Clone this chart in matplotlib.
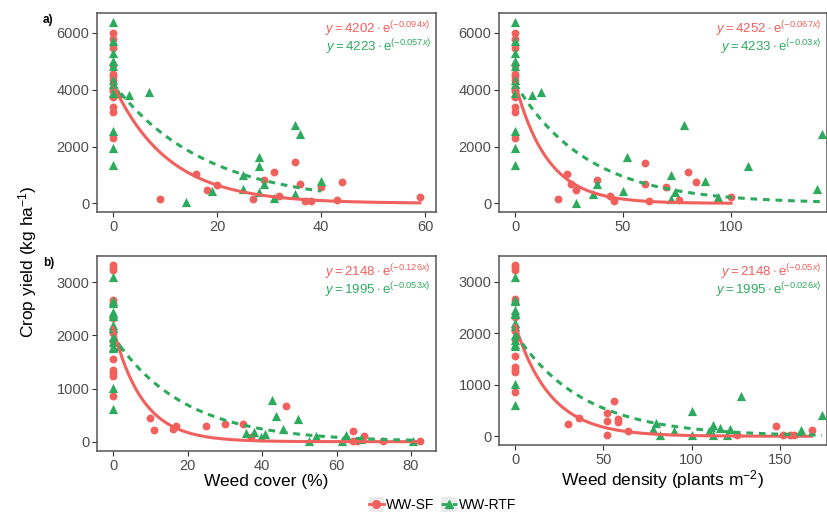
import numpy as np
import matplotlib
matplotlib.use("Agg")
import matplotlib.pyplot as plt
from matplotlib.lines import Line2D
from matplotlib.patches import Rectangle
from matplotlib.legend_handler import HandlerLine2D

plt.rcParams['font.family'] = ['Liberation Sans', 'DejaVu Sans']
plt.rcParams['mathtext.fontset'] = 'custom'
plt.rcParams['mathtext.rm'] = 'Liberation Sans'
plt.rcParams['mathtext.it'] = 'Liberation Sans:italic'

RED = '#F0605D'
GREEN = '#2EAA5E'
DASH = (0, (2.2, 1.9))

# yields at zero weeds (shared by both panels of a row)
sf_y0_a = [6000, 5770, 5480, 4870, 4550, 4480, 4350, 4000, 3950, 3730, 3400, 3200, 2300]
rtf_y0_a = [6400, 5700, 5300, 5000, 4850, 4350, 4200, 3900, 2550, 1950, 1350]
sf_y0_b = [3330, 3280, 3230, 2670, 2610, 2320, 2110, 2040, 1890, 1565, 1350, 1285, 1238, 855]
rtf_y0_b = [3095, 2650, 2620, 2440, 2400, 2370, 2190, 2134, 1970, 1875, 1790, 1755, 1015, 615]

# a) weed cover
sf_cover_a_x = [9, 16, 18, 20, 27, 29, 31, 32, 35, 36, 37, 38, 40, 43, 44, 59]
sf_cover_a_y = [160, 1030, 470, 645, 150, 820, 1090, 255, 1440, 690, 80, 80, 580, 115, 760, 220]
rtf_cover_a_x = [1, 3, 7, 14, 19, 25, 25, 28, 28, 28, 29, 31, 35, 35, 36, 40]
rtf_cover_a_y = [3900, 3815, 3910, 45, 445, 990, 490, 1620, 1315, 390, 680, 190, 2750, 340, 2440, 785]

# a) weed density
sf_dens_a_x = [20, 24, 26, 28, 38, 44, 46, 60, 60, 62, 70, 76, 80, 84, 100]
sf_dens_a_y = [165, 1035, 670, 470, 820, 270, 95, 1430, 690, 80, 585, 115, 1105, 765, 225]
rtf_dens_a_x = [8, 12, 28, 36, 38, 50, 52, 72, 72, 74, 78, 88, 94, 108, 140, 142]
rtf_dens_a_y = [3830, 3910, 25, 330, 670, 435, 1620, 985, 140, 410, 2750, 785, 210, 1315, 495, 2430]

# b) weed cover
sf_cover_b_x = [10, 11, 16, 17, 25, 30, 35, 37, 46.5, 64.5, 64.3, 65.6, 67.4, 72.5, 82.4]
sf_cover_b_y = [450, 220, 240, 295, 295, 340, 340, 95, 680, 10, 200, 10, 110, 10, 10]
rtf_cover_b_x = [1.5, 35.7, 37.8, 39.8, 40.7, 42.8, 43.7, 45.7, 49.7, 52.5, 54.5, 61.5, 62.5, 66.6, 80.4]
rtf_cover_b_y = [1800, 155, 175, 80, 140, 785, 480, 245, 420, 20, 110, 20, 125, 45, 20]

# b) weed density
sf_dens_b_x = [30, 36, 52, 52, 52, 56, 58, 58, 64, 126, 148, 152, 156, 158, 168]
sf_dens_b_y = [230, 350, 460, 295, 20, 685, 340, 280, 100, 15, 200, 15, 15, 15, 120]
rtf_dens_b_x = [78, 80, 82, 90, 100, 100, 110, 112, 112, 116, 120, 122, 128, 162, 174]
rtf_dens_b_y = [140, 265, 15, 95, 485, 15, 108, 210, 15, 168, 15, 145, 785, 130, 420]

# fitted y = a * exp(-b x)   (SF, RTF)
fit_cover_a = [(4202, 0.094), (4223, 0.057)]
fit_dens_a = [(4252, 0.067), (4233, 0.03)]
fit_cover_b = [(2148, 0.126), (1995, 0.053)]
fit_dens_b = [(2148, 0.05), (1995, 0.026)]


def with_zero(x, y, y0):
    return np.r_[np.zeros(len(y0)), x], np.r_[y0, y]


def fmt_b(b):
    return ('%.3f' % b).rstrip('0')


panels = [
    # rect, sf, rtf, fits, xlim, ylim, yticks, xticks, tag, xlabel
    ([0.1173, 0.5867, 0.4099, 0.3880],
     with_zero(sf_cover_a_x, sf_cover_a_y, sf_y0_a), with_zero(rtf_cover_a_x, rtf_cover_a_y, rtf_y0_a),
     fit_cover_a, (-3.08, 62.1), (-306, 6704), [0, 2000, 4000, 6000], [0, 20, 40, 60], 'a)', None),
    ([0.6034, 0.5867, 0.3960, 0.3880],
     with_zero(sf_dens_a_x, sf_dens_a_y, sf_y0_a), with_zero(rtf_dens_a_x, rtf_dens_a_y, rtf_y0_a),
     fit_dens_a, (-7.42, 144.2), (-306, 6704), [0, 2000, 4000, 6000], [0, 50, 100], None, None),
    ([0.1173, 0.1209, 0.4099, 0.3801],
     with_zero(sf_cover_b_x, sf_cover_b_y, sf_y0_b), with_zero(rtf_cover_b_x, rtf_cover_b_y, rtf_y0_b),
     fit_cover_b, (-4.3, 86.7), (-175, 3497), [0, 1000, 2000, 3000], [0, 20, 40, 60, 80], 'b)',
     'Weed cover (%)'),
    ([0.6034, 0.1326, 0.3960, 0.3684],
     with_zero(sf_dens_b_x, sf_dens_b_y, sf_y0_b), with_zero(rtf_dens_b_x, rtf_dens_b_y, rtf_y0_b),
     fit_dens_b, (-9.26, 176.5), (-169, 3497), [0, 1000, 2000, 3000], [0, 50, 100, 150], None,
     r'Weed density (plants m$^{-2}$)'),
]

fig = plt.figure(figsize=(8.27, 5.13), dpi=100)

for rect, sf, rtf, fits, xlim, ylim, yt, xt, tag, xlabel in panels:
    ax = fig.add_axes(rect)
    (a1, b1), (a2, b2) = fits
    xs = np.linspace(0, sf[0].max(), 200)
    xr = np.linspace(0, rtf[0].max(), 200)
    ax.scatter(sf[0], sf[1], s=32, marker='o', color=RED, linewidths=0, zorder=3)
    ax.scatter(rtf[0], rtf[1], s=44, marker='^', color=GREEN, linewidths=0, zorder=3)
    ax.plot(xs, a1 * np.exp(-b1 * xs), color=RED, lw=2.2, zorder=4)
    ax.plot(xr, a2 * np.exp(-b2 * xr), color=GREEN, lw=2.2, ls=DASH, zorder=4)
    ax.set_xlim(xlim)
    ax.set_ylim(ylim)
    ax.set_xticks(xt)
    ax.set_yticks(yt)
    ax.tick_params(direction='out', length=3.5, width=0.8, color='#333333',
                   labelsize=10.5, labelcolor='#4D4D4D', pad=2)
    for sp in ax.spines.values():
        sp.set_color('#555555')
        sp.set_linewidth(1.1)
    # equations, fixed offsets from the panel's top-right corner
    ax.annotate(r'$y = %d \cdot \mathrm{e}^{(-%sx)}$' % (a1, fmt_b(b1)), xy=(0.985, 1),
                xycoords='axes fraction', xytext=(0, -11.5), textcoords='offset points',
                ha='right', va='center', color=RED, fontsize=9.5)
    ax.annotate(r'$y = %d \cdot \mathrm{e}^{(-%sx)}$' % (a2, fmt_b(b2)), xy=(0.985, 1),
                xycoords='axes fraction', xytext=(0, -24.8), textcoords='offset points',
                ha='right', va='center', color=GREEN, fontsize=9.5)
    if xlabel:
        ax.set_xlabel(xlabel, fontsize=12.5, labelpad=1)
    if tag:
        fig.text(0.052, rect[1] + rect[3] - 0.014, tag, fontsize=8.5, fontweight='bold', va='center')

fig.text(0.033, 0.49, r'Crop yield (kg ha$^{-1}$)', rotation=90, fontsize=12.5,
         ha='center', va='center')


class KeyHandler(HandlerLine2D):
    def create_artists(self, legend, orig_handle, xdescent, ydescent, width, height, fontsize, trans):
        bg = Rectangle((-xdescent, -ydescent - 2), width, height + 4, facecolor='#EBEBEB',
                       edgecolor='none', transform=trans)
        arts = super().create_artists(legend, orig_handle, xdescent, ydescent, width, height,
                                      fontsize, trans)
        return [bg] + list(arts)


handles = [Line2D([], [], color=RED, lw=2, marker='o', ms=5.5),
           Line2D([], [], color=GREEN, lw=2, ls=DASH, marker='^', ms=6)]
fig.legend(handles, ['WW-SF', 'WW-RTF'], loc='center', bbox_to_anchor=(0.535, 0.015), ncol=2,
           frameon=False, fontsize=10, handlelength=1.1, handletextpad=0.15, columnspacing=0.5,
           handler_map={Line2D: KeyHandler(numpoints=1)})

fig.savefig('out.png', dpi=100)
